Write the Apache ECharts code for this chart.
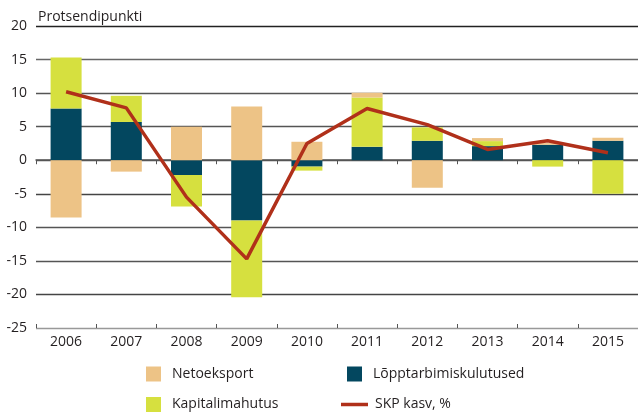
<!DOCTYPE html>
<html lang="et">
<head>
    <meta charset="UTF-8">
    <title>SKP kasv</title>
    <script src="https://cdn.jsdelivr.net/npm/echarts@6/dist/echarts.min.js"></script>
    <style>
        html, body { margin: 0; padding: 0; background: #fff; }
        #chart { width: 638px; height: 412px; }
    </style>
</head>
<body>
<div id="chart"></div>
<script type="text/javascript">
    // andmed
    var years = ['2006', '2007', '2008', '2009', '2010', '2011', '2012', '2013', '2014', '2015'];
    var loppTarbimine = [7.7, 5.7, -2.2, -9.0, -0.95, 2.0, 2.9, 2.1, 2.3, 2.9];
    var kapital = [7.6, 3.9, -4.7, -11.4, -0.6, 7.35, 2.0, 0.75, -0.95, -5.0];
    var netoeksport = [-8.55, -1.7, 5.0, 8.0, 2.75, 0.7, -4.1, 0.45, 0.25, 0.45];
    var skpKasv = [10.2, 7.8, -5.5, -14.7, 2.5, 7.7, 5.3, 1.6, 2.9, 1.1];
    var yTicks = [-25, 20, 5];

    var font = '"Open Sans", "Noto Sans", sans-serif';
    var txt = { fontFamily: font, fontSize: 14, color: '#231f20' };

    // üks legend iga kirje jaoks, et saada kaks veergu
    function legendItem(name, left, top, w, h, gap) {
        return {
            left: left, top: top, padding: 0,
            itemWidth: w, itemHeight: h, icon: 'rect',
            textStyle: Object.assign({ padding: [0, 0, 0, gap], lineHeight: 15 }, txt),
            data: [name]
        };
    }

    var chart = echarts.init(document.getElementById('chart'));
    var option = {
        animation: false,
        textStyle: { fontFamily: font },
        grid: { left: 36, right: 0, top: 26, bottom: 84, containLabel: false },
        title: {
            text: 'Protsendipunkti',
            left: 33, top: 5,
            textStyle: { fontFamily: font, fontSize: 14, fontWeight: 'normal', color: '#231f20' }
        },
        legend: [
            legendItem('Netoeksport', 146, 366.5, 15, 15, 6),
            legendItem('Kapitalimahutus', 146, 397, 15, 15, 6),
            legendItem('Lõpptarbimiskulutused', 347, 366.5, 15, 15, 6),
            legendItem('SKP kasv, %', 341, 397, 27, 3.5, 2)
        ],
        xAxis: [
            {
                type: 'category', data: years,
                axisLine: { show: false, onZero: false },
                axisTick: { show: false },
                axisLabel: Object.assign({ margin: 7 }, txt)
            },
            {
                type: 'category', data: years, position: 'bottom',
                axisLine: { onZero: true, lineStyle: { color: '#555', width: 1.5 } },
                axisTick: { show: true, length: 4, lineStyle: { color: '#555' } },
                axisLabel: { show: false }
            },
            {
                type: 'category', data: years, position: 'bottom',
                axisLine: { show: false, onZero: true },
                axisTick: { show: true, inside: true, length: 4, lineStyle: { color: '#555' } },
                axisLabel: { show: false }
            }
        ],
        yAxis: {
            type: 'value', min: yTicks[0], max: yTicks[1], interval: yTicks[2],
            axisLine: { show: false },
            axisTick: { show: false },
            axisLabel: Object.assign({ margin: 9 }, txt),
            splitLine: {
                lineStyle: {
                    color: ['#999', '#444', '#555', '#555', '#444', '#555', '#555', '#555', '#666', '#222'],
                    width: 1.3
                }
            }
        },
        series: [
            {
                name: 'Lõpptarbimiskulutused', type: 'bar', stack: 'kokku',
                barWidth: 31, data: loppTarbimine,
                itemStyle: { color: '#03475f' }
            },
            {
                name: 'Kapitalimahutus', type: 'bar', stack: 'kokku',
                barWidth: 31, data: kapital,
                itemStyle: { color: '#d6e03f' }
            },
            {
                name: 'Netoeksport', type: 'bar', stack: 'kokku',
                barWidth: 31, data: netoeksport,
                itemStyle: { color: '#edc386' }
            },
            {
                name: 'SKP kasv, %', type: 'line', data: skpKasv,
                symbol: 'none', z: 5,
                lineStyle: { color: '#b0301a', width: 3.5 },
                itemStyle: { color: '#b0301a' }
            }
        ]
    };
    chart.setOption(option);
</script>
</body>
</html>
